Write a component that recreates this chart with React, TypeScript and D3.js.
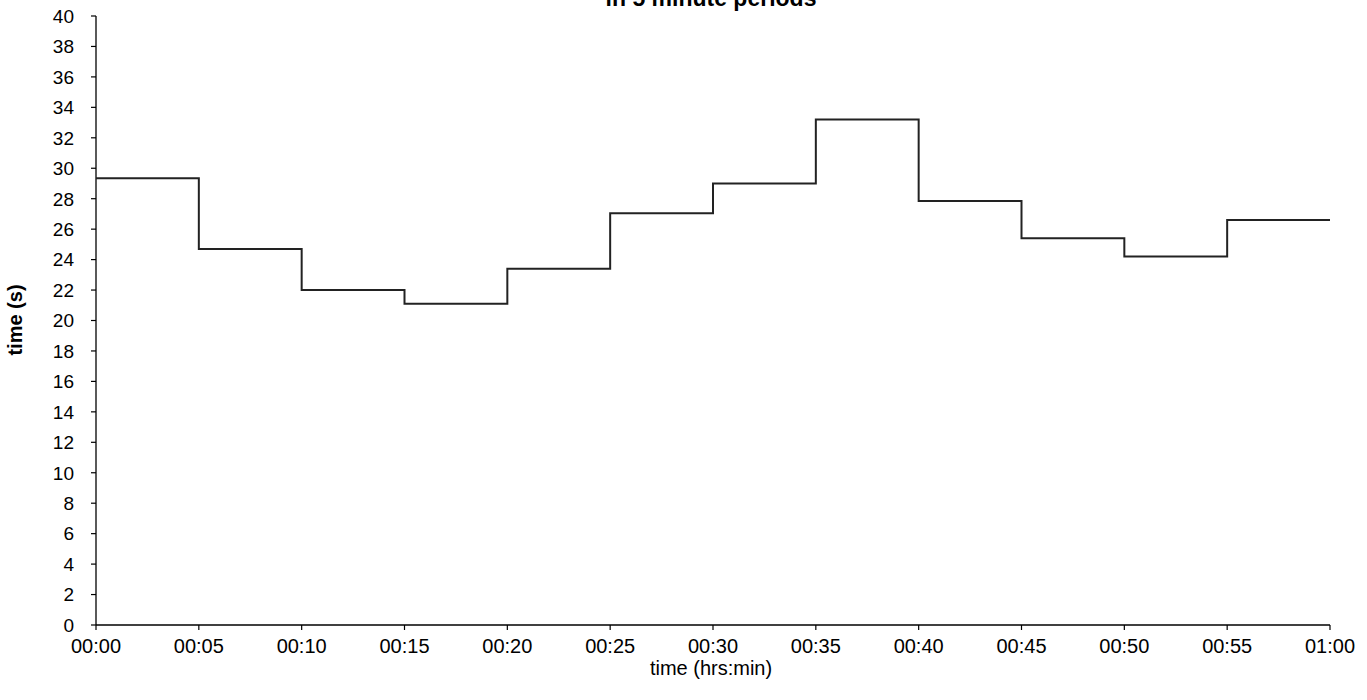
import React from "react";
import * as d3 from "d3";

const periodStarts: number[] = [0, 5, 10, 15, 20, 25, 30, 35, 40, 45, 50, 55];
const periodValues: number[] = [29.35, 24.7, 22.0, 21.1, 23.4, 27.05, 29.0, 33.2, 27.85, 25.4, 24.2, 26.6];
const xTickMinutes: number[] = [0, 5, 10, 15, 20, 25, 30, 35, 40, 45, 50, 55, 60];
const yTicks: number[] = d3.range(0, 41, 2);
const titleText = "in 5 minute periods";
const xAxisTitle = "time (hrs:min)";
const yAxisTitle = "time (s)";

const W = 1367;
const H = 700;
const left = 96;
const right = 1330;
const top = 16;
const bottom = 625;

function fmt(m: number): string {
  const h = Math.floor(m / 60);
  const mm = m % 60;
  return `${String(h).padStart(2, "0")}:${String(mm).padStart(2, "0")}`;
}

export default function App() {
  const x = d3.scaleLinear().domain([0, 60]).range([left, right]);
  const y = d3.scaleLinear().domain([0, 40]).range([bottom, top]);
  const pts: [number, number][] = periodStarts.map((s, i) => [s, periodValues[i]]);
  pts.push([60, periodValues[periodValues.length - 1]]);
  const line = d3
    .line<[number, number]>()
    .x((d) => x(d[0]))
    .y((d) => y(d[1]))
    .curve(d3.curveStepAfter);
  const font = "Arial, 'Liberation Sans', sans-serif";
  return (
    <svg
      width={W}
      height={H}
      style={{ position: "absolute", left: 0, top: 0, background: "#fff" }}
      fontFamily={font}
    >
      <rect x={0} y={0} width={W} height={H} fill="#fff" />
      <text x={711} y={6} textAnchor="middle" fontWeight="bold" fontSize={23} fill="#000">
        {titleText}
      </text>
      {/* y axis */}
      <line x1={left} x2={left} y1={top} y2={bottom} stroke="#000" strokeWidth={1.3} />
      {yTicks.map((t) => (
        <g key={"y" + t}>
          <line x1={left - 5} x2={left} y1={y(t)} y2={y(t)} stroke="#000" strokeWidth={1.2} />
          <text x={74} y={y(t)} dy="0.36em" textAnchor="end" fontSize={19} fill="#000">
            {t}
          </text>
        </g>
      ))}
      {/* x axis */}
      <line x1={left} x2={right} y1={bottom} y2={bottom} stroke="#000" strokeWidth={1.3} />
      {xTickMinutes.map((m) => (
        <g key={"x" + m}>
          <line x1={x(m)} x2={x(m)} y1={bottom} y2={bottom + 5} stroke="#000" strokeWidth={1.2} />
          <text x={x(m)} y={653} textAnchor="middle" fontSize={20} fill="#000">
            {fmt(m)}
          </text>
        </g>
      ))}
      <text x={711} y={675} textAnchor="middle" fontSize={20} fill="#000">
        {xAxisTitle}
      </text>
      <text
        transform={`translate(22,320) rotate(-90)`}
        textAnchor="middle"
        fontWeight="bold"
        fontSize={20}
        fill="#000"
      >
        {yAxisTitle}
      </text>
      <path d={line(pts) || ""} fill="none" stroke="#222" strokeWidth={2} />
    </svg>
  );
}
